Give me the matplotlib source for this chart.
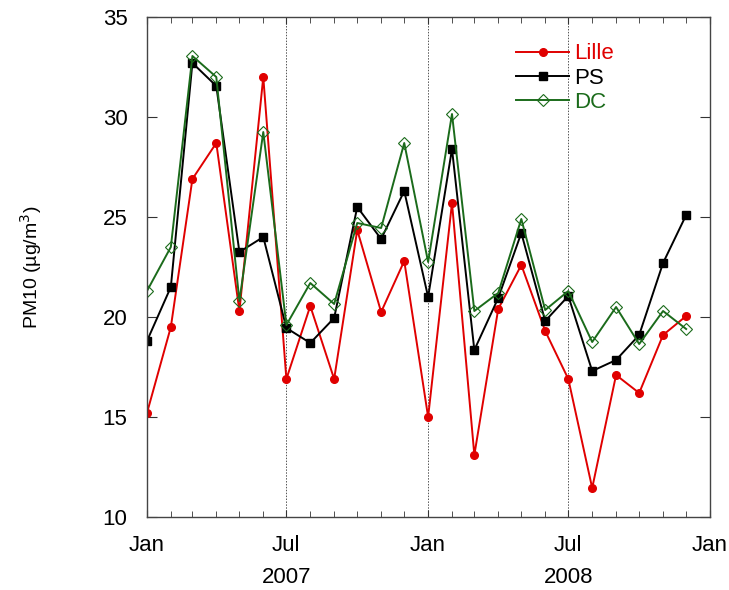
import matplotlib
matplotlib.use("Agg")
import matplotlib.pyplot as plt
import matplotlib.dates as mdates
import matplotlib.transforms as mtransforms
import numpy as np
import pandas as pd

plt.rcParams.update({
    "font.family": ["Liberation Sans", "DejaVu Sans"],
    "font.size": 15,
})

# monthly PM10 means, Jan 2007 - Dec 2008
months = pd.date_range("2007-01-01", periods=24, freq="MS")
lille = [15.2, 19.5, 26.9, 28.7, 20.3, 32.0, 16.9, 20.55, 16.9, 24.35, 20.25, 22.8,
         15.0, 25.7, 13.1, 20.4, 22.6, 19.3, 16.9, 11.45, 17.1, 16.2, 19.1, 20.05]
ps = [18.8, 21.5, 32.7, 31.55, 23.25, 24.0, 19.45, 18.7, 19.95, 25.5, 23.9, 26.3,
      21.0, 28.4, 18.35, 20.95, 24.2, 19.8, 21.05, 17.3, 17.85, 19.1, 22.7, 25.1]
dc = [21.3, 23.5, 33.05, 32.0, 20.8, 29.25, 19.6, 21.7, 20.65, 24.7, 24.45, 28.7,
      22.75, 30.15, 20.3, 21.2, 24.9, 20.35, 21.3, 18.75, 20.5, 18.65, 20.3, 19.4]

RED, BLACK, GREEN = "#e00000", "#000000", "#1b6b1b"

fig = plt.figure(figsize=(7.29, 5.90), dpi=100)
ax = fig.add_axes([0.2016, 0.1237, 0.7724, 0.8475])

ax.plot(months, lille, "-o", color=RED, lw=1.4, ms=5.5, label="Lille")
ax.plot(months, ps, "-s", color=BLACK, lw=1.4, ms=5.5, label="PS")
ax.plot(months, dc, "-D", color=GREEN, lw=1.4, ms=6, mfc="none", mew=0.8,
        label="DC")

# half-year separators
for d in ["2007-07-01", "2008-01-01", "2008-07-01"]:
    ax.axvline(pd.Timestamp(d), color="#555555", lw=0.7, ls=(0, (1.5, 1.5)), zorder=0)

ax.set_xlim(pd.Timestamp("2007-01-01"), pd.Timestamp("2009-01-01"))
ax.set_ylim(10, 35)
ax.set_yticks([10, 15, 20, 25, 30, 35])
ax.xaxis.set_major_locator(mdates.MonthLocator(bymonth=[1, 7]))
ax.xaxis.set_major_formatter(mdates.DateFormatter("%b"))
ax.xaxis.set_minor_locator(mdates.MonthLocator())
ax.tick_params(which="both", direction="in", top=True, right=True, colors="#333333",
               labelcolor="black", labelsize=16)
ax.tick_params(axis="y", length=7, pad=14)
ax.tick_params(axis="x", which="major", length=5, pad=13)
ax.tick_params(axis="x", which="minor", length=4)
for s in ax.spines.values():
    s.set_color("#444444")
    s.set_linewidth(1.0)

trans = mtransforms.blended_transform_factory(ax.transData, ax.transAxes)
ax.text(pd.Timestamp("2007-07-01"), -0.12, "2007", transform=trans,
        ha="center", va="center", fontsize=16)
ax.text(pd.Timestamp("2008-07-01"), -0.12, "2008", transform=trans,
        ha="center", va="center", fontsize=16)

ax.set_ylabel("PM10 (\u00b5g/m$^3$)", fontsize=14, labelpad=42)

leg = ax.legend(loc="upper left", bbox_to_anchor=(0.62, 0.987), frameon=False,
                fontsize=16, handlelength=2.4, handletextpad=0.2,
                labelspacing=0.15)
for txt, c in zip(leg.get_texts(), [RED, BLACK, GREEN]):
    txt.set_color(c)

fig.savefig("out.png", dpi=100)
